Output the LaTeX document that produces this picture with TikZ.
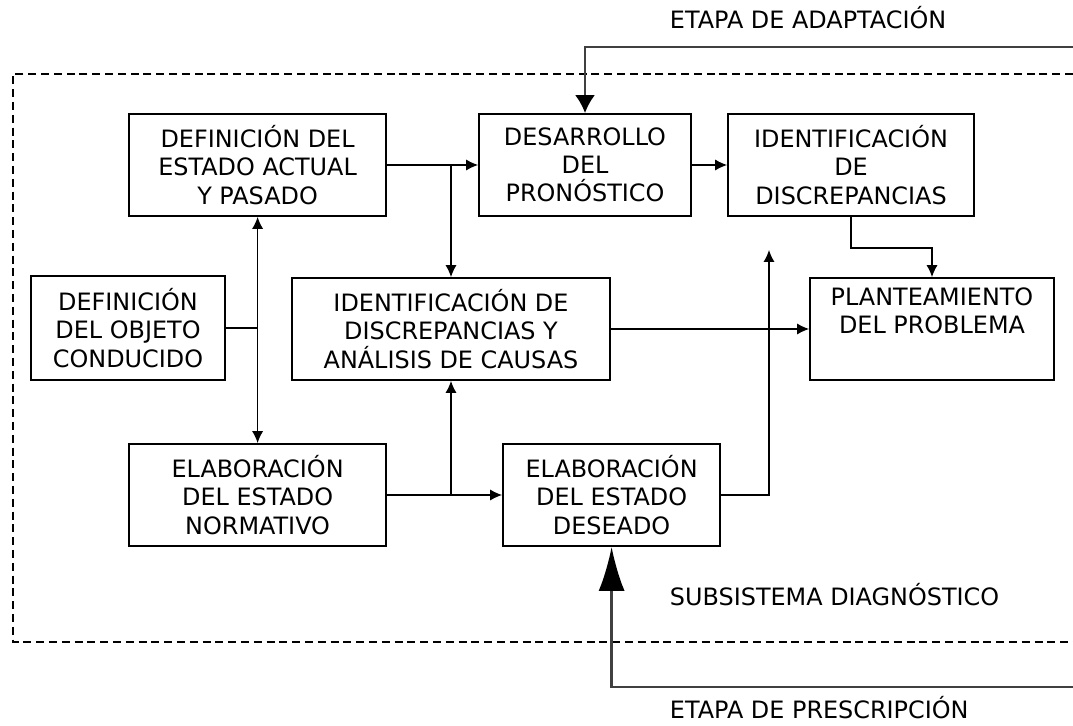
\documentclass[tikz,border=0pt]{standalone}
\usepackage{fontspec}
\setmainfont{DejaVu Sans}
\usetikzlibrary{arrows.meta}

\begin{document}
\begin{tikzpicture}[
	font=\fontsize{17}{20}\selectfont,
	box/.style={draw, line width=1.3pt, align=center, minimum height=2.55cm, inner sep=0pt},
	link/.style={line width=0.9pt, -{Latex[length=0.3cm,width=0.28cm]}},
	feedback/.style={line width=1.6pt, black!75},
]
	\useasboundingbox (0,0) rectangle (26.825,18.125);

	% subsystem frame
	\draw[line width=0.9pt, dash pattern=on 0.2cm off 0.12cm] (26.825,16.275) -- (0.325,16.275) -- (0.325,2.075) -- (26.825,2.075);

	% boxes
	\node[box, minimum width=6.43cm] (actual) at (6.44,14) {DEFINICIÓN DEL\\ESTADO ACTUAL\\Y PASADO};
	\node[box, minimum width=4.85cm, minimum height=2.6cm] (objeto) at (3.2,9.925) {DEFINICIÓN\\DEL OBJETO\\CONDUCIDO};
	\node[box, minimum width=5.3cm] (pronostico) at (14.625,14) {DESARROLLO\\DEL\\PRONÓSTICO};
	\node[box, minimum width=6.15cm] (discrep) at (21.275,14) {IDENTIFICACIÓN\\DE\\DISCREPANCIAS};
	\node[box, minimum width=7.95cm] (causas) at (11.275,9.9) {IDENTIFICACIÓN DE\\DISCREPANCIAS Y\\ANÁLISIS DE CAUSAS};
	\node[box, minimum width=6.1cm] (problema) at (23.3,9.9) {PLANTEAMIENTO\\DEL PROBLEMA\\\strut};
	\node[box, minimum width=6.43cm] (normativo) at (6.44,5.75) {ELABORACIÓN\\DEL ESTADO\\NORMATIVO};
	\node[box, minimum width=5.43cm] (deseado) at (15.29,5.75) {ELABORACIÓN\\DEL ESTADO\\DESEADO};

	% labels
	\node[anchor=base west] (adaptacion) at (16.625,17.4) {ETAPA DE ADAPTACIÓN};
	\node[anchor=base west] (subsistema) at (16.625,3.0) {SUBSISTEMA DIAGNÓSTICO};
	\node[anchor=base west] (prescripcion) at (16.625,0.175) {ETAPA DE PRESCRIPCIÓN};

	% links
	\draw[link] (actual.east) -- (pronostico.west);
	\draw[link] (actual.east -| causas.north) -- (causas.north);
	\draw[link] (pronostico.east) -- (discrep.west);
	\draw[link] (discrep.south) -- ++(0,-0.775) -| (problema.north);
	\draw[link] (objeto.east) -| (actual.south);
	\draw[link] (objeto.east) -| (normativo.north);
	\draw[link] (causas.east) -- (problema.west);
	\draw[link] (normativo.east) -- (deseado.west);
	\draw[link] (normativo.east -| causas.south) -- (causas.south);
	\coordinate (libre) at (19.225,11.875);
	\draw[link] (deseado.east) -| (libre);

	% feedback
	\coordinate (adaptIn) at (26.825,16.95);
	\coordinate (prescIn) at (26.825,0.95);
	\draw[feedback, -{Latex[length=0.45cm,width=0.5cm,color=black]}] (adaptIn) -| (pronostico.north);
	\draw[feedback, -{Latex[length=1.1cm,width=0.65cm,color=black]}] (prescIn) -| (deseado.south);

\end{tikzpicture}
\end{document}
